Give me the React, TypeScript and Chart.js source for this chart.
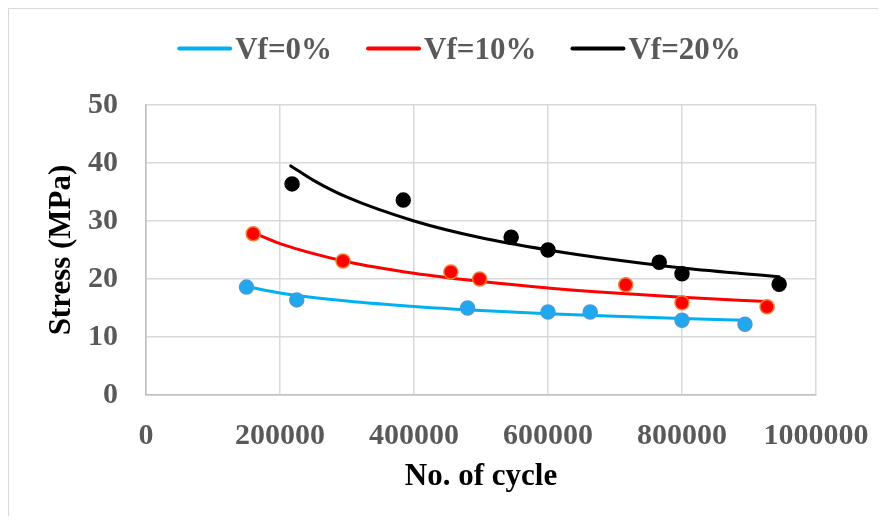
import React, { useEffect, useRef } from "react";
import { Chart, registerables } from "chart.js";

Chart.register(...registerables);

// ---- data ----
const SERIES_LABELS = ["Vf=0%", "Vf=10%", "Vf=20%"];

const vf0X = [150000, 225000, 480000, 600000, 663000, 800000, 894000];
const vf0Y = [18.6, 16.4, 15.0, 14.3, 14.3, 12.9, 12.2];

const vf10X = [160000, 294000, 455000, 498000, 716000, 800000, 927000];
const vf10Y = [27.8, 23.1, 21.2, 20.0, 19.0, 15.9, 15.2];

const vf20X = [218000, 384000, 545000, 600000, 766000, 800000, 945000];
const vf20Y = [36.4, 33.6, 27.2, 25.0, 22.9, 20.9, 19.1];

// power trendlines
const trend0X = [150000, 200000, 300000, 400000, 500000, 600000, 700000, 800000, 894000];
const trend0Y = [18.7, 17.6, 16.2, 15.25, 14.56, 14.02, 13.57, 13.2, 12.9];

const trend10X = [160000, 200000, 300000, 400000, 500000, 600000, 700000, 800000, 927000];
const trend10Y = [28.0, 26.1, 22.97, 20.98, 19.56, 18.46, 17.59, 16.87, 16.1];

const trend20X = [216000, 250000, 300000, 400000, 500000, 600000, 700000, 800000, 945000];
const trend20Y = [39.5, 37.0, 34.1, 30.0, 27.1, 25.0, 23.3, 21.9, 20.4];

const X_MIN = 0;
const X_MAX = 1000000;
const X_STEP = 200000;
const Y_MIN = 0;
const Y_MAX = 50;
const Y_STEP = 10;

const LINE_COLORS = ["#00b0f0", "#ff0000", "#000000"];
const POINT_FILL = ["#1ea9ee", "#ff0000", "#000000"];
const POINT_BORDER = ["#4a98dc", "#ed7d31", "#000000"];

const toXY = (xs: number[], ys: number[]) => xs.map((x, i) => ({ x, y: ys[i] }));

const FONT = '"Liberation Serif", "Times New Roman", serif';

const legendPlugin = {
  id: "customLegend",
  afterDraw(chart: any) {
    const ctx = chart.ctx as CanvasRenderingContext2D;
    ctx.save();
    ctx.font = `bold 31px ${FONT}`;
    const lineW = 55;
    const gap = 3;
    const spacing = 34;
    const widths = SERIES_LABELS.map((t) => ctx.measureText(t).width);
    const total =
      widths.reduce((a, w) => a + lineW + gap + w, 0) + spacing * (SERIES_LABELS.length - 1);
    let x = 450 - total / 2;
    const lineY = 39.5;
    const baseY = 50;
    SERIES_LABELS.forEach((label, i) => {
      ctx.beginPath();
      ctx.strokeStyle = LINE_COLORS[i];
      ctx.lineWidth = 4;
      ctx.lineCap = "round";
      ctx.moveTo(x + 2, lineY);
      ctx.lineTo(x + lineW - 2, lineY);
      ctx.stroke();
      ctx.fillStyle = "#595959";
      ctx.textAlign = "left";
      ctx.textBaseline = "alphabetic";
      ctx.fillText(label, x + lineW + gap, baseY);
      x += lineW + gap + widths[i] + spacing;
    });
    ctx.restore();
  },
};

export default function App() {
  const ref = useRef<HTMLCanvasElement | null>(null);

  useEffect(() => {
    if (!ref.current) return;
    const pointSets = [
      toXY(vf0X, vf0Y),
      toXY(vf10X, vf10Y),
      toXY(vf20X, vf20Y),
    ];
    const trendSets = [
      toXY(trend0X, trend0Y),
      toXY(trend10X, trend10Y),
      toXY(trend20X, trend20Y),
    ];
    const datasets: any[] = [];
    pointSets.forEach((d, i) => {
      datasets.push({
        label: SERIES_LABELS[i] + " data",
        data: d,
        showLine: false,
        pointRadius: 7,
        pointBorderWidth: 1.5,
        pointBackgroundColor: POINT_FILL[i],
        pointBorderColor: POINT_BORDER[i],
      });
    });
    trendSets.forEach((d, i) => {
      datasets.push({
        label: SERIES_LABELS[i],
        data: d,
        showLine: true,
        borderColor: LINE_COLORS[i],
        backgroundColor: LINE_COLORS[i],
        borderWidth: 3,
        pointRadius: 0,
        tension: 0.4,
        cubicInterpolationMode: "monotone",
        borderCapStyle: "round",
      });
    });

    const chart = new Chart(ref.current, {
      type: "scatter",
      data: { datasets },
      plugins: [legendPlugin],
      options: {
        responsive: false,
        animation: false,
        devicePixelRatio: 1,
        layout: { padding: { top: 96, right: 70, bottom: 20, left: 0 } },
        plugins: {
          legend: { display: false },
          tooltip: { enabled: false },
        },
        scales: {
          x: {
            type: "linear",
            min: X_MIN,
            max: X_MAX,
            afterFit: (s: any) => {
              s.height = 101;
              s.paddingLeft = 0;
              s.paddingRight = 0;
            },
            ticks: {
              stepSize: X_STEP,
              padding: 23,
              color: "#595959",
              font: { family: FONT, size: 30, weight: "bold" },
              callback: (v: any) => String(v),
              maxRotation: 0,
              autoSkip: false,
            },
            grid: { color: "#d9d9d9", lineWidth: 1.5, drawTicks: false },
            border: { color: "#bfbfbf", width: 1.5 },
            title: {
              display: true,
              text: "No. of cycle",
              color: "#000000",
              font: { family: FONT, size: 31, weight: "bold" },
              padding: { top: 0, bottom: 0 },
            },
          },
          y: {
            type: "linear",
            min: Y_MIN,
            max: Y_MAX,
            afterFit: (s: any) => {
              s.width = 137;
            },
            ticks: {
              stepSize: Y_STEP,
              padding: 28,
              color: "#595959",
              font: { family: FONT, size: 30, weight: "bold" },
            },
            grid: { color: "#d9d9d9", lineWidth: 1.5, drawTicks: false },
            border: { color: "#bfbfbf", width: 1.5 },
            title: {
              display: true,
              text: "Stress (MPa)",
              color: "#000000",
              font: { family: FONT, size: 31, weight: "bold" },
              padding: { top: 34, bottom: 0 },
            },
          },
        },
      },
    });
    return () => chart.destroy();
  }, []);

  return (
    <div
      style={{
        width: 878,
        height: 508,
        borderLeft: "1px solid #d9d9d9",
        borderTop: "1px solid #d9d9d9",
        boxSizing: "border-box",
        position: "relative",
        background: "#ffffff",
      }}
    >
      <canvas ref={ref} width={877} height={507} style={{ display: "block" }} />
    </div>
  );
}
